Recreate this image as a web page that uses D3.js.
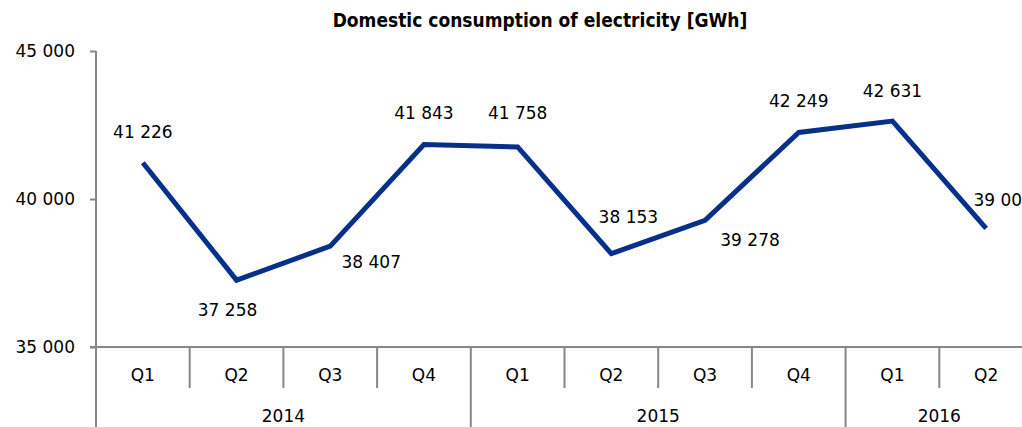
<!DOCTYPE html>
<html>
<head>
<meta charset="utf-8">
<script src="https://cdn.jsdelivr.net/npm/d3@7"></script>
<style>
  body { margin: 0; background: #fff; }
  svg { display: block; font-family: "DejaVu Sans", sans-serif; }
</style>
</head>
<body>
<div id="chart"></div>
<script>
// data
const years = ['2014', '2015', '2016'];
const quarters = ['Q1', 'Q2', 'Q3', 'Q4', 'Q1', 'Q2', 'Q3', 'Q4', 'Q1', 'Q2'];
const quarterYears = ['2014', '2014', '2014', '2014', '2015', '2015', '2015', '2015', '2016', '2016'];
const consumption = [41226, 37258, 38407, 41843, 41758, 38153, 39278, 42249, 42631, 39005];
const yTicks = [35000, 40000, 45000];

// where each value label sits relative to its point (hand placed, like the original)
const labelOffsets = [[0, -25], [-9, 36], [41, 22], [0, -25], [0, -28], [17, -31], [45, 26], [0, -25], [0, -24], [17, -22]];

const width = 1022, height = 427;
const plotLeft = 96, plotRight = 1033, plotTop = 51, plotBottom = 347;
const grey = '#878787';
const blue = '#06308a';
const fontSize = '17px';

const svg = d3.select('#chart')
              .append('svg')
              .attr('width', width)
              .attr('height', height);

const fmt = d3.formatLocale({decimal: ',', thousands: '\u00a0', grouping: [3], currency: ['', '']}).format(',');

const idx = d3.range(consumption.length);
const scaleX = d3.scaleBand().domain(idx).range([plotLeft, plotRight]).padding(0);
const scaleY = d3.scaleLinear().domain([35000, 45000]).range([plotBottom, plotTop]);

// title
svg.append('text')
   .attr('x', 540)
   .attr('y', 27)
   .style('text-anchor', 'middle')
   .style('font-family', '"DejaVu Sans Condensed", "DejaVu Sans", sans-serif')
   .style('font-weight', 'bold')
   .style('font-size', '19px')
   .text('Domestic consumption of electricity [GWh]');

// y axis
const yAxis = d3.axisLeft(scaleY)
                .tickValues(yTicks)
                .tickSize(6)
                .tickPadding(15)
                .tickFormat(fmt);

const yAxisGroup = svg.append('g')
                      .attr('transform', 'translate(' + plotLeft + ',0)')
                      .call(yAxis);
yAxisGroup.select('.domain').attr('stroke', grey).attr('stroke-width', 2).attr('d', 'M0,' + plotTop + 'V' + height);
yAxisGroup.selectAll('.tick line').attr('stroke', grey).attr('stroke-width', 2);
yAxisGroup.selectAll('.tick text')
          .style('font-size', fontSize)
          .style('fill', '#000');
yAxisGroup.attr('font-family', null).attr('font-size', null);

// x axis: baseline, quarter cells, year cells
svg.append('line')
   .attr('x1', plotLeft - 6).attr('x2', width)
   .attr('y1', plotBottom).attr('y2', plotBottom)
   .attr('stroke', grey).attr('stroke-width', 2);

svg.selectAll('.qsep')
   .data(idx.slice(1))
   .enter()
   .append('line')
   .attr('class', 'qsep')
   .attr('x1', d => scaleX(d)).attr('x2', d => scaleX(d))
   .attr('y1', plotBottom)
   .attr('y2', d => quarterYears[d] !== quarterYears[d - 1] ? height : 388)
   .attr('stroke', grey).attr('stroke-width', 2);

svg.selectAll('.qlabel')
   .data(idx)
   .enter()
   .append('text')
   .attr('class', 'qlabel')
   .attr('x', d => scaleX(d) + scaleX.bandwidth() / 2)
   .attr('y', 381)
   .style('text-anchor', 'middle')
   .style('font-size', fontSize)
   .text(d => quarters[d]);

svg.selectAll('.ylabel')
   .data(years)
   .enter()
   .append('text')
   .attr('class', 'ylabel')
   .attr('x', y => {
       const members = idx.filter(i => quarterYears[i] === y);
       return (scaleX(members[0]) + scaleX(members[members.length - 1]) + scaleX.bandwidth()) / 2;
   })
   .attr('y', 422)
   .style('text-anchor', 'middle')
   .style('font-size', fontSize)
   .text(y => y);

// the line
const line = d3.line()
               .x(d => scaleX(d) + scaleX.bandwidth() / 2)
               .y(d => scaleY(consumption[d]));

svg.append('path')
   .datum(idx)
   .attr('d', line)
   .style('fill', 'none')
   .style('stroke', blue)
   .style('stroke-width', 5)
   .style('stroke-linejoin', 'miter');

// value labels
svg.selectAll('.vlabel')
   .data(idx)
   .enter()
   .append('text')
   .attr('class', 'vlabel')
   .attr('x', d => scaleX(d) + scaleX.bandwidth() / 2 + labelOffsets[d][0])
   .attr('y', d => scaleY(consumption[d]) + labelOffsets[d][1])
   .style('text-anchor', 'middle')
   .style('font-size', fontSize)
   .text(d => fmt(consumption[d]));
</script>
</body>
</html>
